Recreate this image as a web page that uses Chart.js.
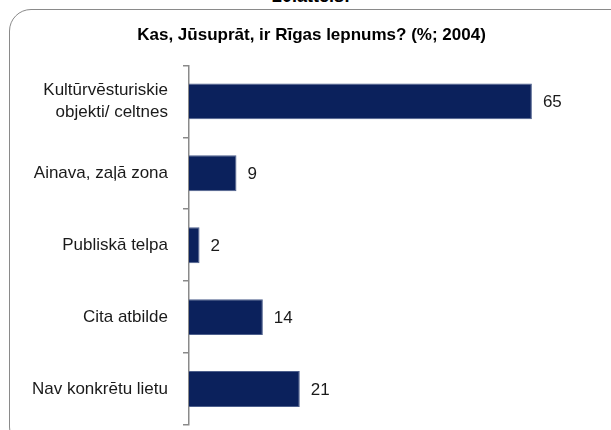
<!DOCTYPE html>
<html>
<head>
<meta charset="utf-8">
<script src="https://cdn.jsdelivr.net/npm/chart.js@4"></script>
<style>
  html, body { margin: 0; padding: 0; background: #fff; overflow: hidden; }
  #wrap { position: relative; width: 611px; height: 430px; overflow: hidden; }
  #frame { position: absolute; left: 9px; top: 9px; width: 630px; height: 440px;
           border: 1.5px solid #8a8a8a; border-radius: 22px; box-sizing: border-box; }
  #fig { position: absolute; left: 0; top: -13px; width: 622px; text-align: center;
         font: bold 18px "Liberation Sans", Arial, sans-serif; line-height: 18px; color: #000; }
  canvas { position: absolute; left: 0; top: 0; }
</style>
</head>
<body>
<div id="wrap">
  <div id="fig">20.attēls:</div>
  <div id="frame"></div>
  <canvas id="c" width="611" height="430"></canvas>
</div>
<script>
const titleText = "Kas, Jūsuprāt, ir Rīgas lepnums? (%; 2004)";
const categories = [
  ["Kultūrvēsturiskie", "objekti/ celtnes"],
  "Ainava, zaļā zona",
  "Publiskā telpa",
  "Cita atbilde",
  "Nav konkrētu lietu"
];
const values = [65, 9, 2, 14, 21];
const xMin = 0, xMax = 80;

const FONT = '"Liberation Sans", Arial, sans-serif';

const valueLabels = {
  id: 'valueLabels',
  afterDatasetsDraw(chart) {
    const ctx = chart.ctx;
    const meta = chart.getDatasetMeta(0);
    ctx.save();
    ctx.font = '17px ' + FONT;
    ctx.fillStyle = '#1a1a1a';
    ctx.textAlign = 'left';
    ctx.textBaseline = 'middle';
    meta.data.forEach((bar, i) => {
      ctx.fillText(String(values[i]), bar.x + 11, bar.y + 1);
    });
    ctx.restore();
  }
};

new Chart(document.getElementById('c'), {
  type: 'bar',
  data: {
    labels: categories,
    datasets: [{
      data: values,
      backgroundColor: '#0b215c',
      borderColor: '#4d5f8c',
      borderWidth: 1,
      barPercentage: 0.5,
      categoryPercentage: 1.0
    }]
  },
  options: {
    indexAxis: 'y',
    responsive: false,
    animation: false,
    layout: { padding: { left: 12, right: 0, top: 0, bottom: 5 } },
    plugins: {
      legend: { display: false },
      tooltip: { enabled: false },
      title: {
        display: true,
        text: titleText,
        color: '#000',
        font: { family: FONT, size: 17, weight: 'bold' },
        padding: { top: 25, bottom: 20 }
      }
    },
    scales: {
      x: {
        display: false,
        min: xMin,
        max: xMax
      },
      y: {
        afterFit(s) { s.width = 177; s.paddingTop = 0; s.paddingBottom = 0; },
        grid: {
          drawOnChartArea: false,
          drawTicks: true,
          tickLength: 6,
          color: '#8a8a8a',
          lineWidth: 1.5
        },
        border: { display: true, color: '#8a8a8a', width: 1.5 },
        ticks: {
          color: '#1a1a1a',
          padding: 15,
          font: { family: FONT, size: 17, lineHeight: 1.3 }
        }
      }
    }
  },
  plugins: [valueLabels]
});
</script>
</body>
</html>
